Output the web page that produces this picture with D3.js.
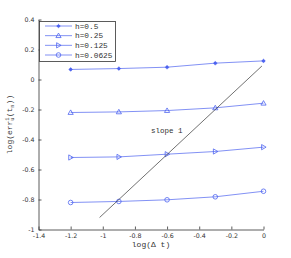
<!DOCTYPE html>
<html>
<head>
<meta charset="utf-8">
<script src="https://cdn.jsdelivr.net/npm/d3@7"></script>
<style>
  body { margin: 0; background: #fff; }
  svg { display: block; }
</style>
</head>
<body>
<svg id="chart" width="291" height="258"></svg>
<script>
// values
const logDt = [-1.2, -0.9, -0.6, -0.3, 0];
const errH05 = [0.067, 0.073, 0.082, 0.109, 0.124];
const errH025 = [-0.220, -0.216, -0.207, -0.189, -0.158];
const errH0125 = [-0.520, -0.516, -0.498, -0.480, -0.451];
const errH00625 = [-0.820, -0.813, -0.802, -0.782, -0.745];
const seriesNames = ["h=0.5", "h=0.25", "h=0.125", "h=0.0625"];
const markerKinds = ["star", "triUp", "triRight", "circle"];
const slopeX = [-1.02, -0.01];
const slopeY = [-0.92, 0.09];
const xTicks = [-1.4, -1.2, -1, -0.8, -0.6, -0.4, -0.2, 0];
const yTicks = [-1, -0.8, -0.6, -0.4, -0.2, 0, 0.2, 0.4];

const series = [errH05, errH025, errH0125, errH00625];

const svg = d3.select("#chart");
const blue = "#4d63f0";
const mono = "'Liberation Mono', 'DejaVu Sans Mono', monospace";

// axes box
let plotLeft = 38.5, plotRight = 263.5, plotTop = 19.5, plotBottom = 229.5;

let x = d3.scaleLinear().domain([-1.4, 0]).range([plotLeft, plotRight]);
let y = d3.scaleLinear().domain([-1, 0.4]).range([plotBottom, plotTop]);

// x axis (ticks inward)
let xAxis = svg.append("g")
  .attr("transform", `translate(0,${plotBottom})`)
  .call(d3.axisBottom(x).tickValues(xTicks).tickSize(-3).tickSizeOuter(0).tickPadding(4)
    .tickFormat(d => String(+d.toFixed(1))));

// y axis
let yAxis = svg.append("g")
  .attr("transform", `translate(${plotLeft},0)`)
  .call(d3.axisLeft(y).tickValues(yTicks).tickSize(-3).tickSizeOuter(0).tickPadding(4)
    .tickFormat(d => String(+d.toFixed(1))));

[xAxis, yAxis].forEach(a => {
  a.select(".domain").attr("stroke", "#333").attr("stroke-width", 0.8);
  a.selectAll(".tick line").attr("stroke", "#333").attr("stroke-width", 0.8);
  a.selectAll("text")
    .attr("fill", "#333")
    .style("font-family", "'DejaVu Sans', sans-serif")
    .style("font-size", "6.3px");
});

// marker drawer
function drawMarker(g, kind, cx, cy) {
  if (kind === "star") {
    g.append("circle").attr("cx", cx).attr("cy", cy).attr("r", 1.6).attr("fill", blue);
    g.append("path")
      .attr("d", `M${cx-2.2},${cy}H${cx+2.2}M${cx},${cy-2.2}V${cy+2.2}`)
      .attr("stroke", blue).attr("stroke-width", 0.6);
  } else if (kind === "triUp") {
    g.append("path")
      .attr("d", `M${cx},${cy-2.6}L${cx+2.6},${cy+1.9}L${cx-2.6},${cy+1.9}Z`)
      .attr("fill", "none").attr("stroke", blue).attr("stroke-width", 0.8);
  } else if (kind === "triRight") {
    g.append("path")
      .attr("d", `M${cx+2.6},${cy}L${cx-1.9},${cy-2.6}L${cx-1.9},${cy+2.6}Z`)
      .attr("fill", "none").attr("stroke", blue).attr("stroke-width", 0.8);
  } else {
    g.append("circle").attr("cx", cx).attr("cy", cy).attr("r", 2.3)
      .attr("fill", "none").attr("stroke", blue).attr("stroke-width", 0.8);
  }
}

let line = d3.line().x(d => x(d[0])).y(d => y(d[1]));

// data series
series.forEach((vals, i) => {
  let pts = logDt.map((d, j) => [d, vals[j]]);
  let g = svg.append("g");
  g.append("path")
    .attr("d", line(pts))
    .attr("fill", "none")
    .attr("stroke", blue)
    .attr("stroke-opacity", 0.7)
    .attr("stroke-width", 1);
  pts.forEach(p => drawMarker(g, markerKinds[i], x(p[0]), y(p[1])));
});

// slope 1 reference line
svg.append("path")
  .attr("d", line(slopeX.map((d, i) => [d, slopeY[i]])))
  .attr("stroke", "#333")
  .attr("stroke-width", 0.7)
  .attr("fill", "none");

svg.append("text")
  .attr("x", x(-0.7))
  .attr("y", y(-0.355))
  .attr("fill", "#333")
  .style("font-family", mono)
  .style("font-size", "7.5px")
  .text("slope 1");

// axis labels
svg.append("text")
  .attr("x", (plotLeft + plotRight) / 2)
  .attr("y", 246.5)
  .attr("text-anchor", "middle")
  .attr("fill", "#333")
  .style("font-family", mono)
  .style("font-size", "8px")
  .text("log(Δ t)");

let yl = svg.append("text")
  .attr("transform", `translate(12,${(plotTop + plotBottom) / 2}) rotate(-90)`)
  .attr("text-anchor", "middle")
  .attr("fill", "#333")
  .style("font-family", mono)
  .style("font-size", "8px");
yl.append("tspan").text("log(err");
yl.append("tspan").attr("dy", -3).style("font-size", "5.5px").text("1");
yl.append("tspan").attr("dx", -3.3).attr("dy", 5).style("font-size", "5.5px").text("u");
yl.append("tspan").attr("dy", -2).text("(t");
yl.append("tspan").attr("dy", 2).style("font-size", "5.5px").text("n");
yl.append("tspan").attr("dy", -2).text("))");

// legend
let legend = svg.append("g");
legend.append("rect")
  .attr("x", 39.5).attr("y", 21.5)
  .attr("width", 76).attr("height", 40)
  .attr("fill", "#fff")
  .attr("stroke", "#333")
  .attr("stroke-width", 0.8);

let legY = d3.scalePoint().domain(seriesNames).range([26, 55]);

seriesNames.forEach((name, i) => {
  let ly = legY(name);
  let g = legend.append("g");
  g.append("line")
    .attr("x1", 45).attr("x2", 72)
    .attr("y1", ly).attr("y2", ly)
    .attr("stroke", blue).attr("stroke-opacity", 0.7).attr("stroke-width", 1);
  drawMarker(g, markerKinds[i], 58.5, ly);
  g.append("text")
    .attr("x", 75).attr("y", ly + 2.5)
    .attr("fill", "#333")
    .style("font-family", mono)
    .style("font-size", "7.8px")
    .text(name);
});
</script>
</body>
</html>
